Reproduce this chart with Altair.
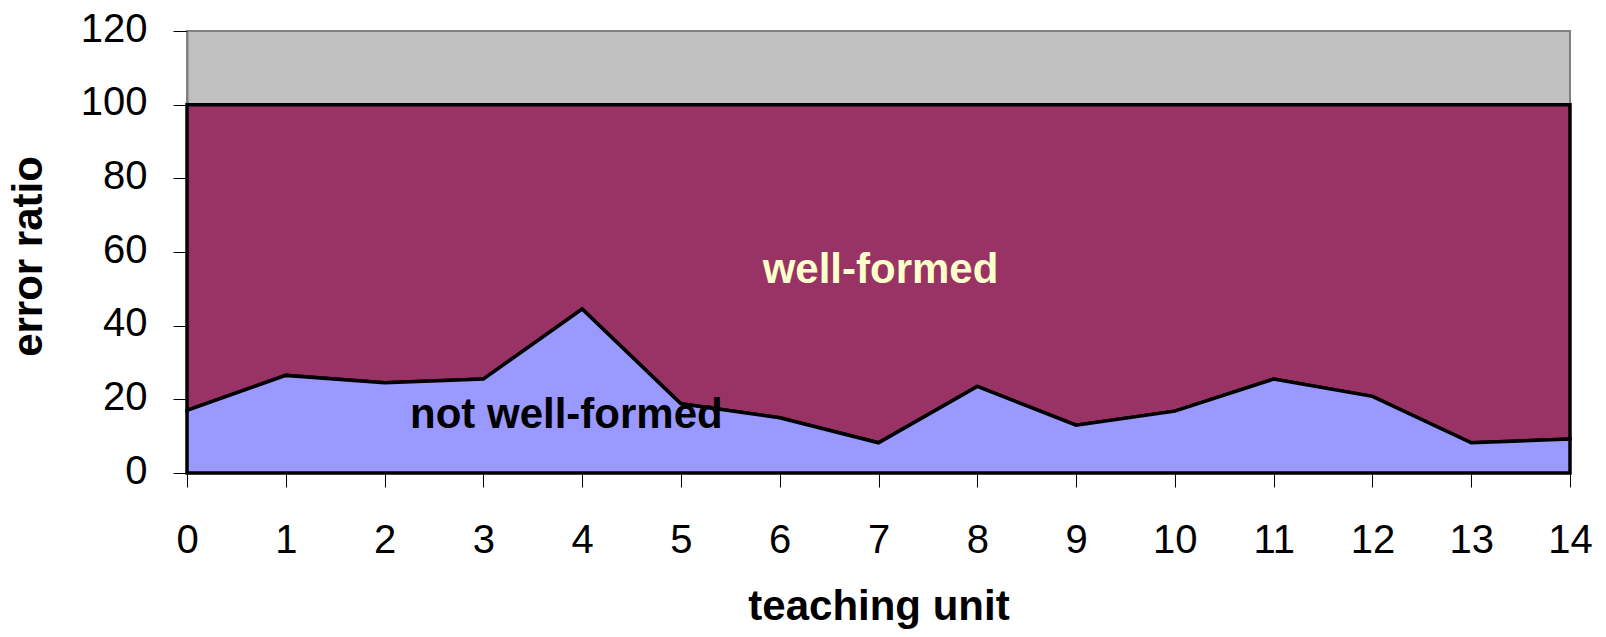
import altair as alt
import pandas as pd

units = list(range(15))
not_well_formed = [17, 26.5, 24.5, 25.5, 44.5, 18.8, 15, 8.2, 23.5, 13, 16.8, 25.5, 20.8, 8.2, 9.2]
y_ticks = [0, 20, 40, 60, 80, 100, 120]
label_text = ["well-formed", "not well-formed"]
label_x = [7.02, 3.84]
label_y = [51.5, 12.1]
label_color = ["#FFFFCC", "#000000"]

FONT = "Liberation Sans, Arial, sans-serif"

df = pd.DataFrame({"unit": units, "nwf": not_well_formed})
lab = pd.DataFrame({"text": label_text, "x": label_x, "y": label_y, "c": label_color})

xs = alt.X("unit:Q", scale=alt.Scale(domain=[0, 14], nice=False),
           axis=alt.Axis(values=units, format="d", title="teaching unit", grid=False,
                         labelFontSize=40, labelFont=FONT, labelColor="black",
                         labelBaseline="top", labelPadding=33, tickSize=14,
                         tickColor="black", tickWidth=1, domainColor="black",
                         labelFlush=False,
                         titleFont=FONT, titleFontSize=42, titleFontWeight="bold",
                         titleColor="black", titleX=691.5, titleY=146,
                         titleAlign="center", titleBaseline="alphabetic"))
ys = alt.Y("nwf:Q", scale=alt.Scale(domain=[0, 120], nice=False),
           axis=alt.Axis(values=y_ticks, format="d", title="error ratio", grid=False,
                         labelFontSize=40, labelFont=FONT, labelColor="black",
                         labelPadding=26, tickSize=14, tickColor="black", tickWidth=1,
                         domainColor="#808080", domainWidth=2, labelOffset=-2,
                         titleFont=FONT, titleFontSize=42, titleFontWeight="bold",
                         titleColor="black", titleX=-146, titleY=225, titleAngle=270,
                         titleAlign="center", titleBaseline="alphabetic"))

purple = alt.Chart(df).mark_area(color="#993366", stroke="black", strokeWidth=3.5,
                                 strokeJoin="miter").encode(
    x=xs, y=ys, y2=alt.datum(100))
blue = alt.Chart(df).mark_area(color="#9999FF", stroke="black", strokeWidth=3.5,
                               strokeJoin="miter").encode(
    x=xs, y=ys, y2=alt.datum(0))
text = alt.Chart(lab).mark_text(font=FONT, fontSize=42, fontWeight="bold",
                                baseline="alphabetic", align="center").encode(
    x=alt.X("x:Q"), y=alt.Y("y:Q"), text="text:N",
    color=alt.Color("c:N", scale=None))

chart = alt.layer(purple, blue, text).properties(
    width=1383, height=442,
    autosize=alt.AutoSizeParams(type="none"),
    padding={"left": 179, "top": 23, "right": 28, "bottom": 156},
).configure_view(fill="#C0C0C0", stroke="#808080", strokeWidth=2)

chart.save("out.html", embed_options={"renderer": "svg", "actions": False})
